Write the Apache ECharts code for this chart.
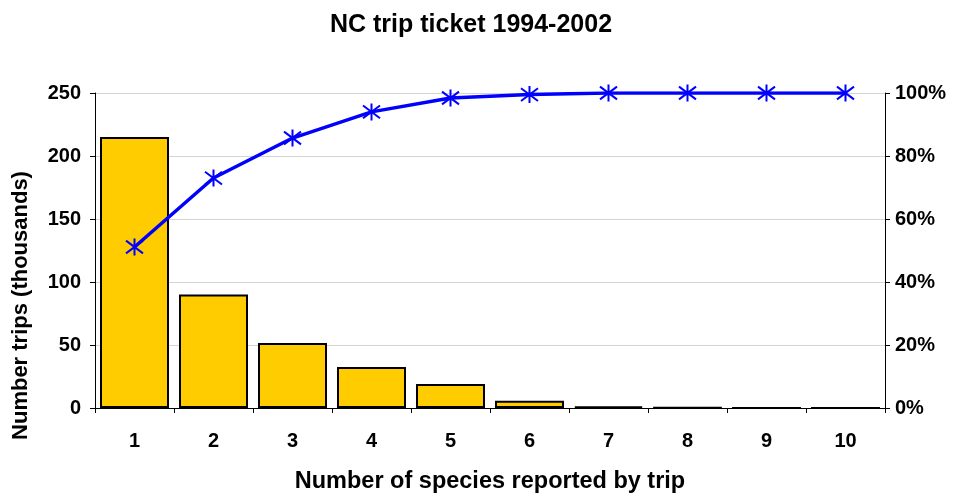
<!DOCTYPE html>
<html><head><meta charset="utf-8">
<script src="https://cdn.jsdelivr.net/npm/echarts@6/dist/echarts.min.js"></script>
<style>html,body{margin:0;padding:0;background:#fff}#c{width:962px;height:496px}</style>
</head><body><div id="c"></div>
<script>
const categories = ['1','2','3','4','5','6','7','8','9','10'];
const trips = [215, 90, 51.6, 32.5, 19, 5.8, 1.3, 0.2, 0.1, 0.05];
const cumulativePct = [51.1, 73, 85.7, 94, 98.4, 99.5, 100, 100, 100, 100];
const leftTicks = [0, 50, 100, 150, 200, 250];

const font = 'Liberation Sans, Arial, sans-serif';
const chart = echarts.init(document.getElementById('c'), null, {renderer:'canvas'});
chart.setOption({
  backgroundColor:'#fff',
  animation:false,
  title:{text:'NC trip ticket 1994-2002', left:466, textAlign:'center', top:8,
    textStyle:{fontFamily:font, fontWeight:'bold', fontSize:25, color:'#000'}},
  grid:{left:95, right:77, top:93, bottom:88, containLabel:false, outerBoundsMode:'none'},
  xAxis:{type:'category', data:categories,
    name:'Number of species reported by trip', nameLocation:'middle', nameGap:62,
    nameTextStyle:{fontFamily:font, fontWeight:'bold', fontSize:23.5, color:'#000'},
    axisLine:{lineStyle:{color:'#000', width:1}},
    axisTick:{show:true, alignWithLabel:false, length:5, lineStyle:{color:'#000'}},
    axisLabel:{fontFamily:font, fontWeight:'bold', fontSize:20, color:'#000', margin:23}},
  yAxis:[{type:'value', min:0, max:250, interval:50,
    name:'Number trips (thousands)', nameLocation:'middle', nameGap:63,
    nameTextStyle:{fontFamily:font, fontWeight:'bold', fontSize:22, color:'#000', padding:[0,110,0,0]},
    axisLine:{show:true, lineStyle:{color:'#000'}},
    axisTick:{show:true, length:5, lineStyle:{color:'#000'}},
    splitLine:{show:true, lineStyle:{color:'#d4d4d4', width:1}},
    axisLabel:{fontFamily:font, fontWeight:'bold', fontSize:20, color:'#000', margin:14,
      formatter:v=>leftTicks.includes(v)?String(v):''}},
   {type:'value', min:0, max:100, interval:20, position:'right',
    axisLine:{show:true, lineStyle:{color:'#000'}},
    axisTick:{show:true, length:5, lineStyle:{color:'#000'}},
    splitLine:{show:false},
    axisLabel:{fontFamily:font, fontWeight:'bold', fontSize:20, color:'#000', margin:10, formatter:'{value}%'}}],
  series:[
    {type:'bar', data:trips, barWidth:69, yAxisIndex:0,
     itemStyle:{color:'#FFCC00', borderColor:'#000', borderWidth:2}},
    {type:'line', data:cumulativePct, yAxisIndex:1, z:5,
     lineStyle:{color:'#0000FF', width:3.5},
     symbol:'path://M8,0 L8,16 M1,2 L15,14 M1,14 L15,2', symbolSize:17,
     itemStyle:{color:'transparent', borderColor:'#0000FF', borderWidth:2}}
  ]
});
</script></body></html>
